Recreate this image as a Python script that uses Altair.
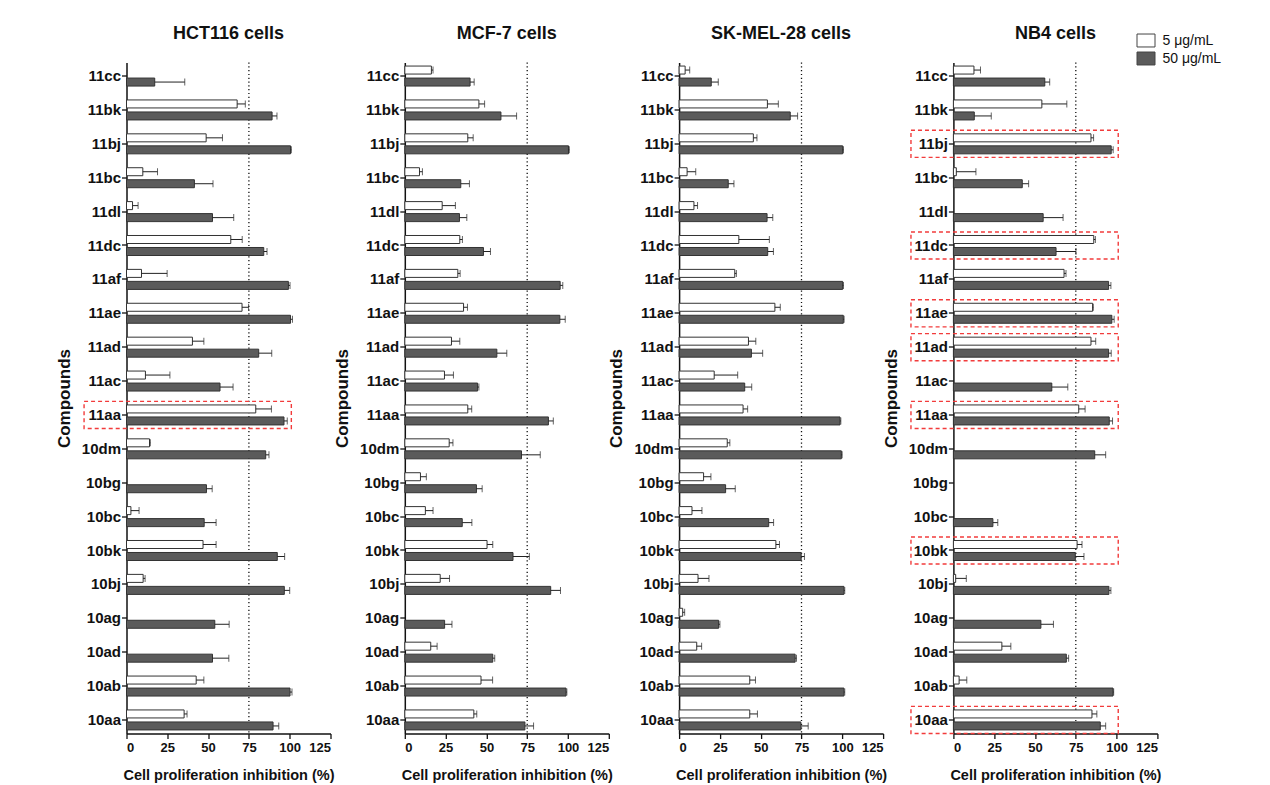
import altair as alt
import pandas as pd

compounds = ["11cc", "11bk", "11bj", "11bc", "11dl", "11dc", "11af", "11ae", "11ad", "11ac",
             "11aa", "10dm", "10bg", "10bc", "10bk", "10bj", "10ag", "10ad", "10ab", "10aa"]
cells = ["HCT116 cells", "MCF-7 cells", "SK-MEL-28 cells", "NB4 cells"]
doses = ["5 μg/mL", "50 μg/mL"]
threshold = 75

# HCT116
hct_5 = [None, 67.8, 48.8, 10, 3.7, 63.9, 9.2, 70.8, 40.4, 11.6, 79.2, 14.1, None, 2.7, 46.9, 10.2, None, None, 42.7, 35.3]
hct_5e = [None, 5, 10, 9, 3.4, 7, 15.7, 4, 7, 15, 9.6, 0.5, None, 5, 8, 1.2, None, None, 4.7, 1.8]
hct_50 = [17.3, 89.2, 100.5, 41.6, 52.7, 84.1, 99.2, 100.5, 81, 57.3, 96.5, 85.3, 49, 47.6, 92.4, 96.7, 54.1, 52.7, 100.2, 89.8]
hct_50e = [18.4, 3, 0.5, 11.4, 13, 2, 1, 1.2, 8, 8, 2, 2, 3.5, 7.3, 4.5, 3.3, 8.8, 10, 1.2, 3.5]

# MCF-7
mcf_5 = [16.3, 45.4, 38.6, 9, 22.9, 33.7, 32.5, 36, 28.6, 24.3, 38.6, 27.2, 9.6, 12.6, 50.4, 21.7, None, 15.9, 46.7, 42.3]
mcf_5e = [1, 3.5, 3.3, 1.8, 8.1, 1.6, 1.4, 2.4, 5.1, 5.5, 2.4, 2.3, 3.6, 4.7, 3.5, 5.7, None, 3.9, 7.1, 1.8]
mcf_50 = [40, 58.9, 100.3, 34.3, 33.5, 48.2, 95.2, 95, 56.4, 44.6, 88, 71.5, 43.9, 35.2, 66.3, 89.4, 24.4, 53.9, 98.8, 73.6]
mcf_50e = [2.5, 9.6, 0.5, 5.3, 4.5, 4.3, 1.6, 3.3, 6.1, 0.8, 3, 11.5, 3.5, 5.9, 10, 6, 4.5, 1.2, 0.5, 5.3]

# SK-MEL-28
sk_5 = [3.7, 54.1, 45.5, 4.9, 9.1, 36.6, 34.1, 58.7, 42.5, 21.5, 39.2, 29.5, 15, 7.9, 59.3, 11.6, 2.2, 10.8, 43.3, 43.3]
sk_5e = [2.8, 6.7, 2.2, 5.3, 2.2, 18.7, 1, 3.3, 4.5, 14.4, 2.8, 1.6, 4.5, 6.1, 2.2, 6.7, 1.2, 3, 3.5, 4.7]
sk_50 = [19.7, 68.1, 100.2, 30.1, 53.9, 54.3, 100.2, 100.6, 44.3, 40.2, 98.6, 99.4, 28.5, 54.9, 74.8, 101, 24.2, 71.1, 101, 74.6]
sk_50e = [4.3, 4.5, 0.5, 3.5, 3.5, 3.5, 0.5, 0.5, 6.9, 4.3, 0.5, 0.5, 5.9, 3, 2, 0.5, 0.8, 0.8, 0.5, 4.5]

# NB4
nb_5 = [12.6, 54.2, 84.3, 1.8, None, 86, 67.8, 85.3, 84.3, None, 76.8, None, None, None, 75.8, 1.4, None, 29.7, 3.5, 84.9]
nb_5e = [4, 15.3, 1.6, 12, None, 1, 1.2, 0.4, 2.9, None, 3.9, None, None, None, 3, 6.5, None, 5.5, 4.7, 3]
nb_50 = [56, 12.8, 96.7, 42.2, 55, 62.9, 95.1, 97.1, 95.1, 60.3, 95.5, 86.6, None, 24.2, 74.7, 95.3, 53.6, 69.2, 97.8, 90]
nb_50e = [3, 10.4, 1.2, 3.9, 12.2, 12.2, 1.4, 1.4, 1.6, 9.8, 2, 6.7, None, 3, 5.3, 1.2, 7.7, 1.4, 0.4, 3.3]

highlight_hct = ["11aa"]
highlight_nb = ["11bj", "11dc", "11ae", "11ad", "11aa", "10bk", "10aa"]

series = {
    "HCT116 cells": (hct_5, hct_5e, hct_50, hct_50e),
    "MCF-7 cells": (mcf_5, mcf_5e, mcf_50, mcf_50e),
    "SK-MEL-28 cells": (sk_5, sk_5e, sk_50, sk_50e),
    "NB4 cells": (nb_5, nb_5e, nb_50, nb_50e),
}
highlights = {"HCT116 cells": highlight_hct, "NB4 cells": highlight_nb}

rows = []
for cell in cells:
    v5, e5, v50, e50 = series[cell]
    for i, c in enumerate(compounds):
        for dose, v, e in ((doses[0], v5[i], e5[i]), (doses[1], v50[i], e50[i])):
            if v is None:
                continue
            rows.append(dict(cell=cell, compound=c, dose=dose, value=v, hi=v + (e or 0)))
df = pd.DataFrame(rows)

FONT = "Liberation Sans"
DARK = "#222222"

def panel(cell):
    d = df[df.cell == cell]
    y = alt.Y("compound:N", sort=compounds,
              scale=alt.Scale(domain=compounds, paddingInner=0.2, paddingOuter=0),
              axis=alt.Axis(title="Compounds"))
    yoff = alt.YOffset("dose:N", sort=doses,
                       scale=alt.Scale(domain=doses, paddingInner=0.333, paddingOuter=0.296))
    xscale = alt.Scale(domain=[0, 125], nice=False)
    xaxis = alt.Axis(values=[0, 25, 50, 75, 100, 125], title="Cell proliferation inhibition (%)")

    ref = alt.Chart(pd.DataFrame({"t": [threshold]})).mark_rule(
        color="#111", strokeDash=[1.2, 2.6], strokeWidth=1.3
    ).encode(x=alt.X("t:Q", scale=xscale, axis=xaxis))

    bars = alt.Chart(d).mark_bar(stroke="#333333", strokeWidth=1, cornerRadius=0).encode(
        x=alt.X("value:Q", scale=xscale, axis=xaxis),
        y=y, yOffset=yoff,
        fill=alt.Fill("dose:N", scale=alt.Scale(domain=doses, range=["#ffffff", "#5b5b5b"]),
                      legend=alt.Legend(title=None, orient="none", legendX=1010, legendY=-31.5,
                                        symbolType="M-1,-0.72L1,-0.72L1,0.72L-1,0.72Z",
                                        symbolSize=324, symbolStrokeColor="#444",
                                        symbolStrokeWidth=1, labelFont=FONT, labelFontSize=14,
                                        labelColor="#111", labelOffset=7, rowPadding=-2)),
    )
    err = alt.Chart(d).mark_rule(color=DARK, strokeWidth=1).encode(
        x="value:Q", x2="hi:Q", y=y, yOffset=yoff)
    caps = alt.Chart(d).mark_tick(color=DARK, thickness=1, size=7, orient="vertical").encode(
        x="hi:Q", y=y, yOffset=yoff)

    layers = [ref, bars, err, caps]
    if cell in highlights:
        hd = pd.DataFrame({"compound": highlights[cell]})
        box = alt.Chart(hd).mark_rect(fill=None, stroke="#f23b3b", strokeWidth=1.4,
                                      strokeDash=[4, 3]).encode(
            x=alt.datum(-26), x2=alt.datum(101), y=y)
        layers.append(box)
    return alt.layer(*layers).properties(title=cell, width=204, height=671)

panels = [panel(c) for c in cells]
inner = alt.hconcat(*panels[1:], spacing=70.3, bounds="flush")
chart = alt.hconcat(panels[0], inner, spacing=74.3, bounds="flush").resolve_scale(
    fill="shared"
).properties(
    padding={"left": 46.5, "top": 16.5, "right": 5, "bottom": 0}
).configure_view(stroke=None).configure_axis(
    grid=False, domainColor="#111", domainWidth=1.5, tickColor="#111", tickWidth=1.3,
    labelFont=FONT, labelFontWeight="bold", labelColor="#111",
    titleFont=FONT, titleFontWeight="bold", titleColor="#111",
).configure_axisY(
    labelFontSize=15, tickSize=5, labelPadding=1, titleFontSize=17, titlePadding=8,
).configure_axisX(
    labelFontSize=13, tickSize=5, labelPadding=3, titleFontSize=14.5, titlePadding=14,
).configure_title(
    font=FONT, fontSize=18, fontWeight="bold", color="#111", offset=18.7, anchor="middle"
)

chart.save("out.html", embed_options={"renderer": "svg", "actions": False})
